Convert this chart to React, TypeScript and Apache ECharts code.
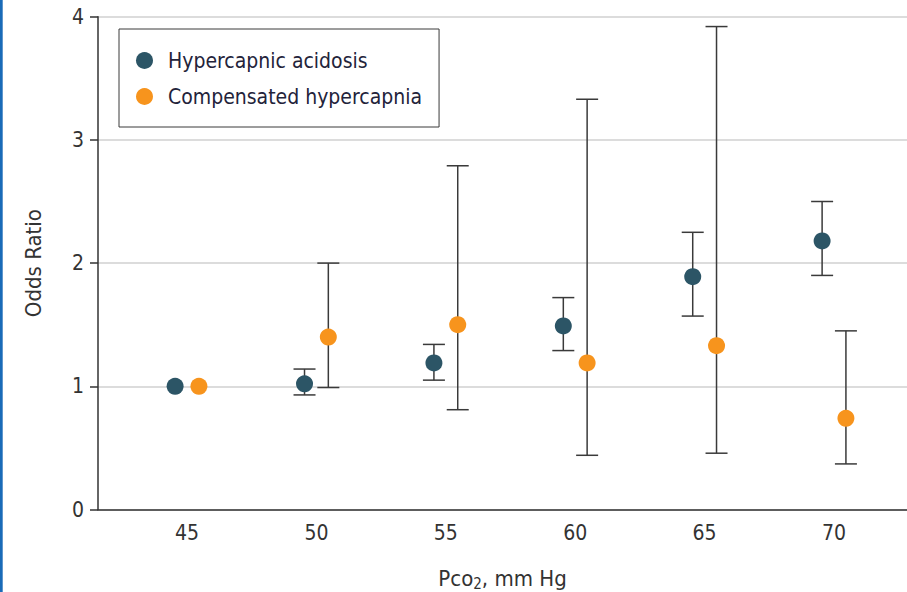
import React, { useEffect, useRef } from "react";
import * as echarts from "echarts";

const pco2 = [45, 50, 55, 60, 65, 70];
const acidosisOR = [1.0, 1.02, 1.19, 1.49, 1.89, 2.18];
const acidosisLow = [null, 0.93, 1.05, 1.29, 1.57, 1.9];
const acidosisHigh = [null, 1.14, 1.34, 1.72, 2.25, 2.5];
const compOR = [1.0, 1.4, 1.5, 1.19, 1.33, 0.74];
const compLow = [null, 0.99, 0.81, 0.44, 0.457, 0.37];
const compHigh = [null, 2.0, 2.79, 3.33, 3.92, 1.45];
const yTicks = [0, 1, 2, 3, 4];

const OFFSET = 0.46;
const FONT = "'Liberation Sans Narrow', 'DejaVu Sans Condensed', 'Open Sans', sans-serif";
const DARK = "#2c5566";
const ORANGE = "#f7941d";

function errorBarSeries(name: string, low: (number | null)[], high: (number | null)[], off: number) {
  const data: number[][] = [];
  pco2.forEach((x, i) => {
    const l = low[i];
    const h = high[i];
    if (l != null && h != null) data.push([x + off, l, h]);
  });
  return {
    type: "custom",
    name: name + " CI",
    data,
    silent: true,
    z: 2,
    renderItem: (params: any, api: any) => {
      const x = api.value(0);
      const lo = api.coord([x, api.value(1)]);
      const hi = api.coord([x, api.value(2)]);
      const half = 11;
      const style = { stroke: "#3a3a3a", lineWidth: 1.5 };
      return {
        type: "group",
        children: [
          { type: "line", shape: { x1: lo[0], y1: lo[1], x2: hi[0], y2: hi[1] }, style },
          { type: "line", shape: { x1: hi[0] - half, y1: hi[1], x2: hi[0] + half, y2: hi[1] }, style },
          { type: "line", shape: { x1: lo[0] - half, y1: lo[1], x2: lo[0] + half, y2: lo[1] }, style },
        ],
      };
    },
  };
}

export default function App() {
  const ref = useRef<HTMLDivElement>(null);
  useEffect(() => {
    document.body.style.margin = "0";
    if (!ref.current) return;
    const chart = echarts.init(ref.current, null, { renderer: "svg" });
    chart.setOption({
      animation: false,
      backgroundColor: "#ffffff",
      textStyle: { fontFamily: FONT },
      grid: { left: 98, top: 16.7, right: 0, bottom: 82.5, containLabel: false, outerBoundsMode: "none" },
      legend: {
        orient: "vertical",
        left: 119,
        top: 29,
        padding: [21, 17, 20, 17],
        borderColor: "#3a3a3a",
        borderWidth: 1,
        itemGap: 15,
        itemWidth: 17,
        itemHeight: 17,
        icon: "circle",
        itemStyle: { opacity: 1 },
        textStyle: { fontSize: 21, color: "#23233a", fontFamily: FONT, padding: [0, 0, 0, 10] },
        data: ["Hypercapnic acidosis", "Compensated hypercapnia"],
      },
      xAxis: {
        type: "value",
        min: 41.56,
        max: 72.82,
        name: "{a|Pco}{s|2}{a|, mm Hg}",
        nameLocation: "middle",
        nameGap: 55,
        nameTextStyle: {
          rich: {
            a: { fontSize: 22, color: "#333", fontFamily: FONT },
            s: { fontSize: 15, color: "#333", fontFamily: FONT, verticalAlign: "bottom", padding: [12, 0, 0, 0] },
          },
        },
        axisLine: { show: true, lineStyle: { color: "#333", width: 1.5 } },
        axisTick: { show: false },
        splitLine: { show: false },
        axisLabel: {
          fontSize: 21,
          color: "#333",
          margin: 13,
          fontFamily: FONT,
          customValues: pco2,
        },
      },
      yAxis: {
        type: "value",
        min: yTicks[0],
        max: yTicks[yTicks.length - 1],
        interval: 1,
        name: "Odds Ratio",
        nameLocation: "middle",
        nameGap: 54,
        nameTextStyle: { fontSize: 22, color: "#333", fontFamily: FONT },
        axisLine: { show: true, lineStyle: { color: "#333", width: 1.5 } },
        axisTick: { show: true, length: 8, lineStyle: { color: "#333", width: 1.5 } },
        axisLabel: { fontSize: 21, color: "#333", margin: 14, fontFamily: FONT },
        splitLine: { show: true, lineStyle: { color: "#dcdcdc", width: 2 } },
      },
      graphic: [
        { type: "rect", left: 0, top: 0, shape: { width: 2.7, height: 592 }, style: { fill: "#1a6bb8" }, z: 100 },
      ],
      series: [
        errorBarSeries("Hypercapnic acidosis", acidosisLow, acidosisHigh, -OFFSET),
        errorBarSeries("Compensated hypercapnia", compLow, compHigh, OFFSET),
        {
          type: "scatter",
          name: "Hypercapnic acidosis",
          symbol: "circle",
          symbolSize: 17,
          itemStyle: { color: DARK, opacity: 1 },
          z: 3,
          data: pco2.map((x, i) => [x - OFFSET, acidosisOR[i]]),
        },
        {
          type: "scatter",
          name: "Compensated hypercapnia",
          symbol: "circle",
          symbolSize: 17,
          itemStyle: { color: ORANGE, opacity: 1 },
          z: 3,
          data: pco2.map((x, i) => [x + OFFSET, compOR[i]]),
        },
      ],
    });
    return () => chart.dispose();
  }, []);
  return <div ref={ref} style={{ width: 907, height: 592 }} />;
}
